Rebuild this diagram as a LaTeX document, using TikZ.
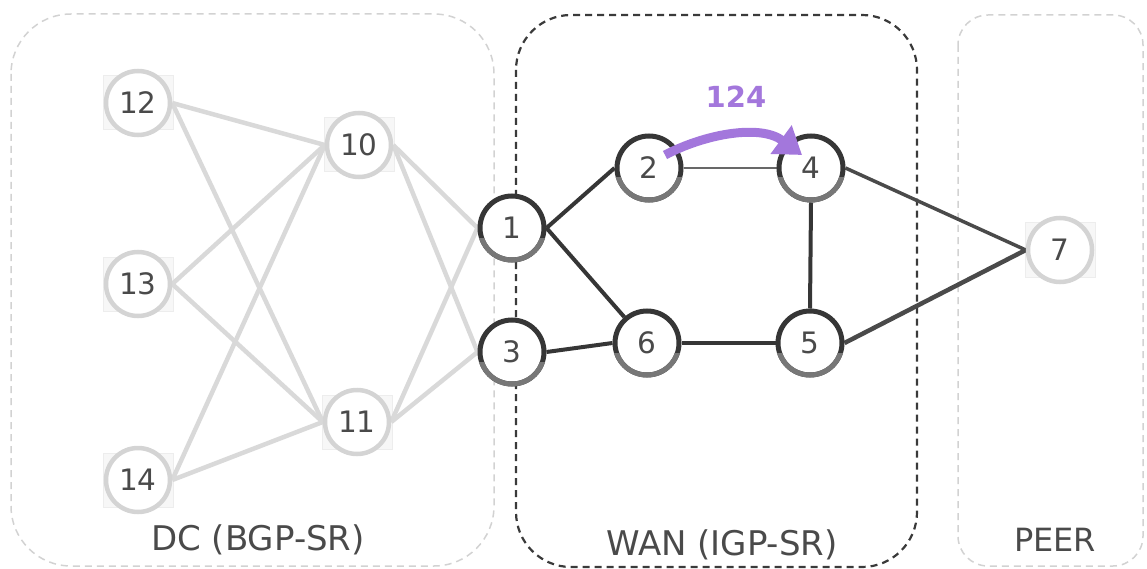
\documentclass[tikz,border=0pt]{standalone}
\usepackage{fontspec}
\setmainfont{DejaVu Sans}
\usetikzlibrary{arrows.meta,calc}
\definecolor{lg}{HTML}{D4D4D4}
\definecolor{le}{HTML}{D9D9D9}
\definecolor{dk}{HTML}{363636}
\definecolor{dkl}{HTML}{777777}
\definecolor{txt}{HTML}{4A4A4A}
\definecolor{pur}{HTML}{A377DC}
\definecolor{lbox}{HTML}{D2D2D2}
\definecolor{dbox}{HTML}{3A3A3A}
\pgfdeclarelayer{bgzero}
\pgfdeclarelayer{bgone}
\pgfsetlayers{bgzero,bgone,main}
\begin{document}
\begin{tikzpicture}[x=1pt,y=-1pt,
 lnode/.style={circle, draw=lg, line width=4.5pt, fill=white, minimum size=64pt, inner sep=0pt, text=txt, font=\fontsize{29.5}{34}\selectfont},
 dnode/.style={lnode, draw=dk, line width=5pt},
 sqbox/.style={rectangle, minimum width=70pt, minimum height=54pt, fill=black!3, draw=black!7, line width=1pt},
 ledge/.style={draw=le, line width=4.5pt},
 dedge/.style={draw=dk, line width=4pt},
 region/.style={dash pattern=on 7pt off 5pt, line width=1.5pt, draw=lbox},
 wregion/.style={dash pattern=on 7pt off 5pt, line width=2.2pt, draw=dbox},
 lbl/.style={text=txt, font=\fontsize{34}{40}\selectfont}
]
\useasboundingbox (0,0) rectangle (1147,569);

% nodes
\node[lnode] (n12) at (138,103) {12};
\node[lnode] (n13) at (138,284) {13};
\node[lnode] (n14) at (138,480) {14};
\node[lnode] (n10) at (359,145) {10};
\node[lnode] (n11) at (357,422) {11};
\node[dnode] (n1) at (512,228) {1};
\node[dnode] (n3) at (512,352) {3};
\node[dnode] (n2) at (649,168) {2};
\node[dnode] (n4) at (811,168) {4};
\node[dnode] (n6) at (647,343) {6};
\node[dnode] (n5) at (810,343) {5};
\node[lnode] (n7) at (1060,250) {7};

% lighter lower part of dark rings
\foreach \n in {n1,n2,n3,n4,n5,n6}{
  \begin{scope}
    \clip ($(\n.center)+(-40,10)$) rectangle ($(\n.center)+(40,40)$);
    \draw[dkl, line width=5pt] (\n.center) circle[radius=32pt];
  \end{scope}
}

% labels
\node[lbl] (ldc) at (258,540) {DC (BGP-SR)};
\node[lbl] (lwan) at (722,545) {WAN (IGP-SR)};
\node[lbl, font=\fontsize{32}{38}\selectfont] (lpeer) at (1055,540) {PEER};

% purple arrow
\coordinate (as) at (665,155);
\coordinate (ae) at (802,155);
\draw[pur, line width=9pt, -{Triangle[length=26pt,width=34pt]}] (as) .. controls (705,134) and (760,124) .. (ae);
\node[text=pur, font=\bfseries\fontsize{29}{34}\selectfont] (l124) at (736,97) {124};

\begin{pgfonlayer}{bgzero}
  \draw[region, rounded corners=60pt] (11,14) rectangle (494,566);
  \draw[wregion, rounded corners=55pt] (516,15) rectangle (917,567);
  \draw[region, rounded corners=30pt] (958,15) rectangle (1143,566);
  \foreach \n in {n12,n13,n14,n10,n11,n7}{
    \node[sqbox] at (\n) {};
  }
\end{pgfonlayer}

\begin{pgfonlayer}{bgone}
  \foreach \a in {n12,n13,n14}{
    \foreach \b in {n10,n11}{
      \draw[ledge] (\a.east) -- (\b.west);
    }
  }
  \foreach \a in {n10,n11}{
    \foreach \b in {n1,n3}{
      \draw[ledge] (\a.east) -- (\b.west);
    }
  }
  \draw[dedge] (n1.east) -- (n2.west);
  \draw[dedge] (n1.east) -- (n6);
  \draw[dedge] (n3.east) -- (n6.west);
  \draw[dedge] (n6.east) -- (n5.west);
  \draw[dedge] (n4.south) -- (n5.north);
  \draw[draw=dk!75, line width=2pt] (n2.east) -- (n4.west);
  \draw[draw=dk!90, line width=3.5pt] (n4.east) -- (n7.west);
  \draw[draw=dk!90, line width=4.5pt] (n5.east) -- (n7.west);
\end{pgfonlayer}
\end{tikzpicture}
\end{document}
